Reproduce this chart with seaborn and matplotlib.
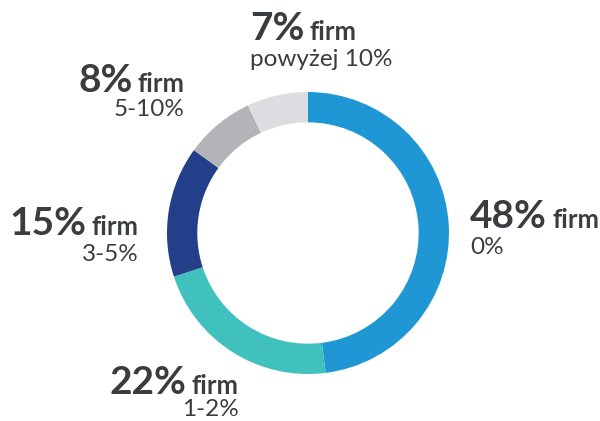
import matplotlib
matplotlib.use("Agg")
import matplotlib.pyplot as plt
import seaborn as sns

sns.set_theme(style="white")
plt.rcParams["font.family"] = ["Lato", "DejaVu Sans"]

shares = [48, 22, 15, 8, 7]
ranges = ["0%", "1-2%", "3-5%", "5-10%", "powyżej 10%"]
colors = ["#1f97d5", "#41c1bd", "#243f8a", "#b2b4b8", "#dcdde0"]

text_color = "#3a3d40"

fig = plt.figure(figsize=(6, 4.21), dpi=100)
ax = fig.add_axes([0.2783, 0.1116, 0.47, 0.6698])
ax.pie(shares, colors=colors, startangle=90, counterclock=False, radius=1,
       wedgeprops=dict(width=0.215, edgecolor="none"))
ax.set_xlim(-1, 1)
ax.set_ylim(-1, 1)
ax.set_aspect("equal")
ax.axis("off")

# label anchors in pixels of the picture: x, baseline big, baseline sub, alignment
cx, cy, r = 308, 233, 141
def to_data(px, py):
    return (px - cx) / r, (cy - py) / r

anchors = [
    (470, 228, 254, "left"),
    (239, 394, 416, "right"),
    (139, 235, 261, "right"),
    (185, 92, 116, "right"),
    (250, 40, 66, "left"),
]

big, small, sub = 28, 18.5, 17.5

for share, rng, (px, py_big, py_sub, ha) in zip(shares, ranges, anchors):
    x, y = to_data(px, py_big)
    _, y2 = to_data(px, py_sub)
    pct = f"{share}%"
    if ha == "left":
        t = ax.text(x, y, pct, fontsize=big, fontweight="bold", color=text_color,
                    ha="left", va="baseline", clip_on=False)
        ax.annotate("firm", xy=(1, y), xycoords=(t, "data"), xytext=(4, 0),
                    textcoords="offset points", fontsize=small, fontweight="bold",
                    color=text_color, ha="left", va="baseline")
    else:
        t = ax.text(x, y, "firm", fontsize=small, fontweight="bold", color=text_color,
                    ha="right", va="baseline", clip_on=False)
        ax.annotate(pct, xy=(0, y), xycoords=(t, "data"), xytext=(-4, 0),
                    textcoords="offset points", fontsize=big, fontweight="bold",
                    color=text_color, ha="right", va="baseline")
    ax.text(x, y2, rng, fontsize=sub, color=text_color, ha=ha, va="baseline",
            clip_on=False)

fig.savefig("out.png", dpi=100)
